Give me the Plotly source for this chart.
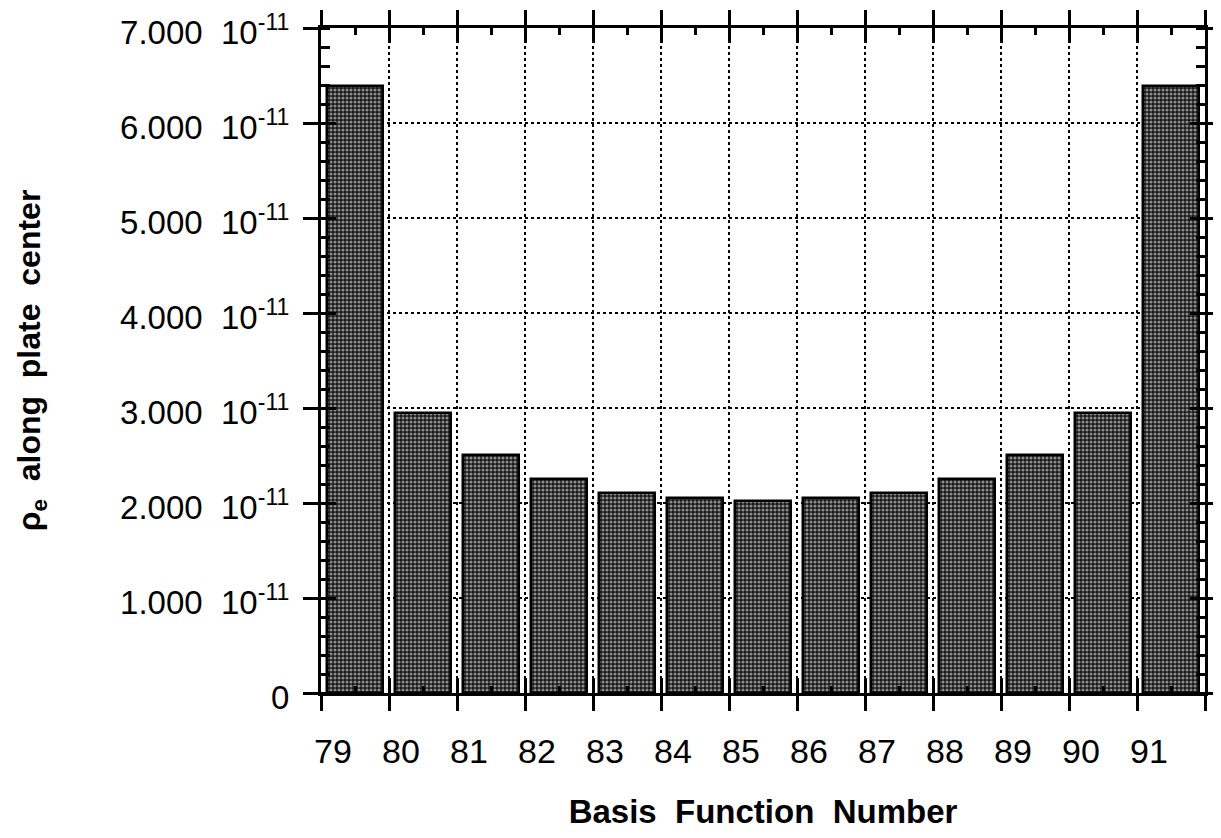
import plotly.graph_objects as go

# Data
categories = [79, 80, 81, 82, 83, 84, 85, 86, 87, 88, 89, 90, 91]
rho_e = [6.39e-11, 2.95e-11, 2.505e-11, 2.25e-11, 2.11e-11, 2.05e-11, 2.025e-11,
         2.05e-11, 2.11e-11, 2.25e-11, 2.505e-11, 2.95e-11, 6.39e-11]
y_tick_vals = [0, 1e-11, 2e-11, 3e-11, 4e-11, 5e-11, 6e-11, 7e-11]
y_tick_text = ["0"] + [f"{m}.000\u00a0\u00a010<sup>-11</sup>" for m in range(1, 8)]
x_tick_vals = categories + [categories[-1] + 1]
x_tick_text = [str(c) for c in categories] + [""]

FONT = "Liberation Sans, Arial, Helvetica, sans-serif"

fig = go.Figure()
fig.add_trace(go.Bar(
    x=categories, y=rho_e, width=0.81, offset=0.095,
    marker=dict(color="#1a1a1a",
                line=dict(color="black", width=2.5),
                pattern=dict(shape=".", fgcolor="#ffffff", bgcolor="#1a1a1a",
                             size=4, solidity=0.45)),
    showlegend=False, hoverinfo="skip",
))
# invisible trace on the overlay axes so they are drawn
fig.add_trace(go.Scatter(x=[None], y=[None], xaxis="x2", yaxis="y2",
                         showlegend=False, hoverinfo="skip"))

common_line = dict(showline=True, linecolor="black", linewidth=3)

fig.update_layout(
    width=1213, height=830,
    paper_bgcolor="white", plot_bgcolor="white",
    margin=dict(l=313, r=16, t=20, b=145, autoexpand=False),
    font=dict(family=FONT, size=34, color="black"),
    bargap=0,
    xaxis=dict(
        range=[categories[0], categories[-1] + 1],
        tickmode="array", tickvals=x_tick_vals, ticktext=x_tick_text,
        ticks="outside", ticklen=15, tickwidth=3, tickcolor="black",
        ticklabelstandoff=11, ticklabelshift=12, ticklabeloverflow="allow",
        tickfont=dict(size=34),
        mirror="allticks", **common_line, automargin=False,
        showgrid=True, gridcolor="black", gridwidth=1.5, griddash="dot",
        zeroline=False,
        minor=dict(ticks="inside", ticklen=7, tickwidth=3, tickcolor="black",
                   tick0=categories[0] + 0.5, dtick=1, showgrid=False),
        title=dict(text="Basis\u00a0\u00a0Function\u00a0\u00a0Number",
                   font=dict(size=33, weight="bold"), standoff=32),
    ),
    xaxis2=dict(
        overlaying="x", anchor="y2", matches="x",
        range=[categories[0], categories[-1] + 1],
        tickmode="array", tickvals=x_tick_vals,
        ticks="inside", ticklen=15, tickwidth=3, tickcolor="black",
        showticklabels=False, mirror="allticks", automargin=False,
        showline=False, showgrid=False, zeroline=False,
    ),
    yaxis=dict(
        range=[0, 7e-11],
        tickmode="array", tickvals=y_tick_vals, ticktext=y_tick_text,
        ticks="outside", ticklen=15, tickwidth=3, tickcolor="black",
        ticklabelstandoff=7, ticklabelshift=4, ticklabeloverflow="allow",
        tickfont=dict(size=33),
        mirror="allticks", **common_line, automargin=False,
        showgrid=True, gridcolor="black", gridwidth=1.5, griddash="dot",
        zeroline=False,
        minor=dict(ticks="inside", ticklen=9, tickwidth=3, tickcolor="black",
                   tick0=0, dtick=0.2e-11, showgrid=False),
        title=dict(text="\u03c1<sub>e</sub>\u00a0\u00a0along\u00a0\u00a0plate\u00a0\u00a0center",
                   font=dict(size=32, weight="bold"), standoff=70),
    ),
    yaxis2=dict(
        overlaying="y", anchor="x2", matches="y",
        range=[0, 7e-11],
        tickmode="array", tickvals=y_tick_vals,
        ticks="inside", ticklen=15, tickwidth=3, tickcolor="black",
        showticklabels=False, mirror="allticks", automargin=False,
        showline=False, showgrid=False, zeroline=False,
    ),
)

fig.write_html("out.html")
